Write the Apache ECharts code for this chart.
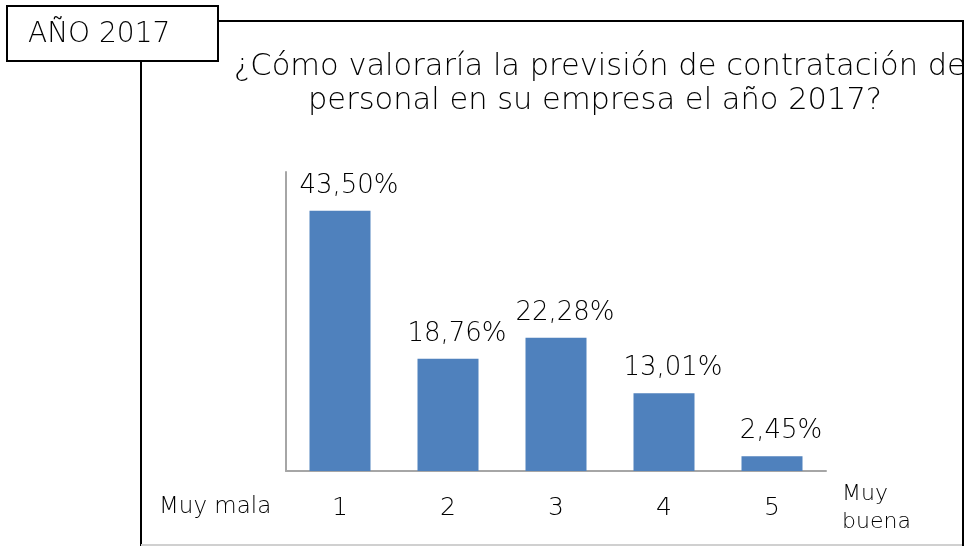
<!DOCTYPE html>
<html>
<head>
<meta charset="utf-8">
<script src="https://cdn.jsdelivr.net/npm/echarts@6/dist/echarts.min.js"></script>
<style>html,body{margin:0;padding:0;background:#fff}#c{width:966px;height:547px}</style>
</head>
<body>
<div id="c"></div>
<script>
var categories = ['1', '2', '3', '4', '5'];
var values = [43.50, 18.76, 22.28, 13.01, 2.45];
var titleLines = ['¿Cómo valoraría la previsión de contratación de', 'personal en su empresa el año 2017?'];
var yearLabel = 'AÑO 2017';
var leftLabel = 'Muy mala';
var rightLabel = 'Muy\nbuena';

var FONT = 'DejaVu Sans';
var W = 200;
var TXT = '#000';
function f(sz) { return W + ' ' + sz + 'px "' + FONT + '"'; }
var chart = echarts.init(document.getElementById('c'));
chart.setOption({
  animation: false,
  backgroundColor: '#fff',
  grid: { left: 286, right: 140, top: 172, bottom: 76 },
  xAxis: {
    type: 'category', data: categories,
    axisLine: { lineStyle: { color: '#a6a6a6', width: 2 } },
    axisTick: { show: false },
    axisLabel: { color: TXT, fontSize: 25, fontWeight: W, fontFamily: FONT, margin: 25 }
  },
  yAxis: {
    type: 'value', min: 0, max: 50,
    axisLine: { show: true, lineStyle: { color: '#a6a6a6', width: 2 } },
    axisTick: { show: false }, axisLabel: { show: false }, splitLine: { show: false }
  },
  series: [{
    type: 'bar', data: values, barWidth: 61,
    itemStyle: { color: '#4f81bd' },
    label: {
      show: true, position: 'top', distance: 12, offset: [9, 0], color: TXT, fontSize: 26, fontWeight: W, fontFamily: FONT,
      formatter: function (p) { return p.value.toFixed(2).replace('.', ',') + '%'; }
    }
  }],
  graphic: [
    { type: 'rect', z: 0, shape: { x: 141, y: 21, width: 822, height: 524 },
      style: { fill: 'none', stroke: '#000', lineWidth: 2 } },
    { type: 'line', z: 1, shape: { x1: 141, y1: 545, x2: 963, y2: 545 }, style: { stroke: '#d0d0d0', lineWidth: 2 } },
    { type: 'text', z: 5, x: 234, y: 67, style: { text: titleLines[0], font: f(30.5), fill: TXT, verticalAlign: 'middle' } },
    { type: 'text', z: 5, x: 595, y: 101, style: { text: titleLines[1], font: f(30.5), fill: TXT, align: 'center', verticalAlign: 'middle' } },
    { type: 'rect', z: 6, shape: { x: 964, y: 0, width: 10, height: 547 }, style: { fill: '#fff' } },
    { type: 'line', z: 7, shape: { x1: 963, y1: 21, x2: 963, y2: 546 }, style: { stroke: '#000', lineWidth: 2 } },
    { type: 'rect', z: 8, shape: { x: 7, y: 6, width: 211, height: 55 },
      style: { fill: '#fff', stroke: '#000', lineWidth: 2 } },
    { type: 'text', z: 9, x: 28, y: 35, style: { text: yearLabel, font: f(28), fill: TXT, verticalAlign: 'middle' } },
    { type: 'text', z: 5, x: 159, y: 507, style: { text: leftLabel, font: f(23), fill: TXT, verticalAlign: 'middle' } },
    { type: 'text', z: 5, x: 842, y: 508, style: { text: rightLabel, font: f(22), fill: TXT, verticalAlign: 'middle', lineHeight: 28 } }
  ]
});
</script>
</body>
</html>
